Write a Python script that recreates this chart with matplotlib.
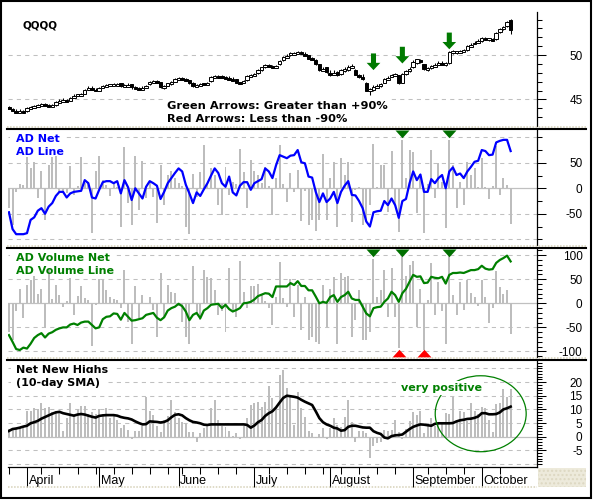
import matplotlib
matplotlib.use("Agg")
import matplotlib.pyplot as plt
import matplotlib.transforms as mtransforms
from matplotlib.patches import Ellipse, FancyArrow, Rectangle
from matplotlib.lines import Line2D
import numpy as np
import pandas as pd

# trading calendar, late March to mid October 2007
holidays = ["2007-04-06", "2007-05-28", "2007-07-04", "2007-09-03"]
days = pd.bdate_range("2007-03-26", "2007-10-11")
days = days[~days.isin(pd.to_datetime(holidays))]

opens = [44.2, 43.9, 43.8, 43.6, 43.7, 43.7, 44.0, 44.1, 44.3, 44.4,
         44.6, 44.4, 44.3, 44.4, 44.7, 44.8, 45.0, 44.8, 45.3, 45.5,
         45.5, 45.6, 46.2, 46.4, 46.2, 46.0, 46.4, 46.5, 46.6, 46.6,
         46.6, 46.8, 46.5, 46.5, 46.7, 46.4, 46.3, 46.2, 46.4, 46.7,
         47.0, 47.1, 47.0, 46.4, 46.5, 46.7, 47.0, 47.3, 47.4, 47.3,
         47.2, 46.9, 46.5, 46.6, 46.8, 46.7, 47.1, 47.5, 47.6, 47.6,
         47.6, 47.5, 47.4, 47.3, 46.9, 46.8, 47.2, 47.6, 47.8, 48.0,
         48.3, 48.6, 48.9, 48.8, 48.6, 49.0, 49.4, 49.8, 50.1, 50.1,
         50.2, 50.3, 50.2, 50.0, 49.7, 49.4, 49.0, 48.3, 48.6, 48.1,
         47.9, 48.1, 47.9, 48.3, 48.3, 48.7, 48.3, 47.8, 47.6, 46.9,
         45.9, 46.1, 46.4, 46.6, 46.9, 47.3, 47.6, 47.8, 47.7, 46.9,
         47.9, 48.3, 48.6, 49.1, 49.4, 49.0, 48.4, 48.5, 48.8, 49.0,
         49.2, 49.0, 49.1, 50.3, 50.3, 50.3, 50.5, 50.6, 51.0, 51.3,
         51.5, 51.6, 51.9, 51.8, 51.8, 51.8, 52.6, 53.0, 53.3, 53.9]
highs = [44.3, 44.0, 43.9, 43.9, 43.8, 44.1, 44.2, 44.4, 44.5, 44.6,
         44.6, 44.5, 44.5, 44.8, 45.0, 45.1, 45.0, 45.3, 45.6, 45.6,
         45.7, 46.2, 46.5, 46.5, 46.3, 46.4, 46.6, 46.7, 46.7, 46.8,
         46.8, 46.8, 46.7, 46.8, 46.7, 46.5, 46.4, 46.5, 46.6, 47.1,
         47.2, 47.2, 47.0, 46.6, 46.9, 47.1, 47.4, 47.5, 47.5, 47.4,
         47.2, 47.0, 46.7, 46.9, 46.9, 47.0, 47.6, 47.7, 47.7, 47.7,
         47.6, 47.6, 47.5, 47.3, 47.0, 47.2, 47.7, 47.9, 48.0, 48.4,
         48.7, 49.0, 49.0, 48.9, 48.9, 49.4, 49.9, 50.1, 50.3, 50.3,
         50.4, 50.4, 50.3, 50.0, 49.8, 49.5, 49.0, 48.7, 48.7, 48.3,
         48.3, 48.2, 48.4, 48.6, 48.9, 49.0, 48.4, 47.9, 47.9, 47.0,
         46.3, 46.6, 46.7, 46.8, 47.4, 47.6, 47.9, 48.0, 47.8, 48.0,
         48.3, 48.6, 49.4, 49.6, 49.5, 49.0, 48.7, 48.9, 49.1, 49.3,
         49.3, 49.2, 50.4, 50.6, 50.5, 50.6, 50.7, 51.1, 51.3, 51.6,
         51.8, 52.0, 52.0, 51.9, 51.9, 52.6, 53.0, 53.3, 53.8, 54.1]
lows = [43.9, 43.7, 43.5, 43.5, 43.5, 43.6, 43.9, 44.0, 44.2, 44.3,
        44.3, 44.2, 44.2, 44.3, 44.6, 44.7, 44.7, 44.8, 45.2, 45.4,
        45.4, 45.6, 46.1, 46.1, 45.9, 46.0, 46.3, 46.4, 46.5, 46.5,
        46.5, 46.4, 46.4, 46.4, 46.2, 46.2, 46.1, 46.1, 46.3, 46.6,
        46.9, 46.9, 46.3, 46.2, 46.5, 46.6, 47.0, 47.2, 47.2, 47.1,
        46.7, 46.4, 46.4, 46.5, 46.6, 46.6, 47.0, 47.4, 47.4, 47.4,
        47.3, 47.2, 47.1, 46.8, 46.7, 46.8, 47.1, 47.5, 47.7, 47.9,
        48.2, 48.5, 48.7, 48.6, 48.6, 48.9, 49.3, 49.7, 49.9, 50.0,
        50.1, 50.1, 49.9, 49.5, 49.4, 48.9, 48.2, 48.2, 48.0, 47.6,
        47.8, 47.6, 47.7, 48.1, 48.2, 48.5, 47.7, 47.4, 47.2, 45.9,
        45.5, 46.0, 46.3, 46.4, 46.8, 47.2, 47.5, 47.6, 46.7, 46.8,
        47.8, 48.1, 48.5, 49.0, 49.1, 48.3, 48.2, 48.4, 48.7, 48.9,
        48.9, 48.8, 49.0, 50.1, 50.1, 50.2, 50.3, 50.5, 50.9, 51.2,
        51.4, 51.5, 51.7, 51.6, 51.6, 51.7, 52.5, 52.8, 53.2, 52.4]
closes = [44.0, 43.8, 43.6, 43.7, 43.6, 44.0, 44.1, 44.3, 44.4, 44.5,
          44.4, 44.3, 44.4, 44.7, 44.9, 45.0, 44.8, 45.2, 45.5, 45.5,
          45.6, 46.1, 46.4, 46.2, 46.0, 46.3, 46.5, 46.6, 46.6, 46.6,
          46.7, 46.5, 46.5, 46.7, 46.4, 46.3, 46.2, 46.4, 46.5, 47.0,
          47.1, 47.0, 46.4, 46.5, 46.8, 47.0, 47.3, 47.4, 47.3, 47.2,
          46.8, 46.5, 46.6, 46.8, 46.7, 46.9, 47.5, 47.6, 47.5, 47.5,
          47.4, 47.3, 47.2, 46.9, 46.8, 47.1, 47.6, 47.8, 47.9, 48.3,
          48.6, 48.9, 48.8, 48.7, 48.8, 49.3, 49.8, 50.0, 50.1, 50.2,
          50.3, 50.2, 50.0, 49.6, 49.5, 49.0, 48.3, 48.5, 48.1, 47.9,
          48.1, 47.8, 48.3, 48.4, 48.7, 48.8, 47.8, 47.6, 47.4, 46.0,
          46.2, 46.4, 46.6, 46.7, 47.3, 47.5, 47.8, 47.9, 46.8, 47.9,
          48.2, 48.4, 49.2, 49.5, 49.3, 48.4, 48.5, 48.8, 49.0, 49.2,
          49.0, 49.1, 50.3, 50.4, 50.3, 50.5, 50.6, 51.0, 51.2, 51.5,
          51.7, 51.9, 51.8, 51.8, 51.7, 52.5, 52.9, 53.2, 53.7, 52.8]

ad_net = [-39, -72, -7, 8, 7, 62, 39, 51, -20, 34,
          -62, 46, 62, 63, -10, -7, -10, 44, -13, 5,
          61, 10, 13, -88, 33, 64, 16, 7, -16, 10,
          3, -75, 80, -29, -72, 64, -42, 54, -20, 13,
          -17, -69, 46, -33, 26, 33, 20, 10, 5, -75,
          -89, 29, -17, 31, 85, 8, 39, 26, -33, -52,
          42, -13, 13, 8, 78, 31, -39, 56, 33, 26,
          10, 41, 5, -52, 20, 85, 8, -26, 30, -7,
          36, -65, -6, -72, -62, -84, -62, 67, -62, 20,
          51, -75, 59, 26, 51, -67, -3, 3, -72, -65,
          -33, 86, 3, 46, 46, -46, 73, -33, -86, 95,
          20, 75, 72, -49, 29, -88, 8, 75, -20, 49,
          13, -78, 95, 46, -39, 13, -33, 52, 26, 39,
          3, 59, 3, -21, 4, 82, -13, 20, 7, -70]
ad_line = [-47, -80, -90, -90, -90, -88, -62, -57, -44, -39,
           -50, -36, -29, -15, -7, -7, -18, -10, -7, -6,
           -5, 16, 10, -18, -20, -3, 12, 14, 14, 10,
           14, -10, 16, 2, -23, 0, -10, -20, 3, 14,
           10, 5, -21, -7, 10, 20, 30, 39, 33, 7,
           -10, -29, -8, -15, -2, 10, 25, 39, 30, 10,
           3, 23, -8, -14, 5, 12, 12, -3, 10, 14,
           18, 39, 33, 20, 45, 65, 62, 59, 64, 65,
           75, 51, 49, 23, 21, -7, -27, -10, -27, -20,
           -7, -29, -7, 5, 14, -13, -14, -25, -39, -65,
           -75, -47, -45, -44, -25, -33, -20, -33, -58, -25,
           -21, 10, 33, 16, 27, -7, -7, 18, 10, 20,
           26, 0, 33, 41, 26, 29, 20, 33, 42, 52,
           54, 75, 73, 65, 66, 90, 93, 95, 95, 73]

adv_net = [-59, -77, -17, 29, -31, 38, 48, 57, 20, 29,
           -52, 77, 8, 38, 17, -8, 5, 52, -24, 15,
           36, 10, 7, -88, -3, 50, 50, 28, 14, 8,
           7, -10, 70, -38, -84, 35, -31, 17, -2, 13,
           -14, -70, 62, -28, 38, 24, 22, -6, -38, -70,
           -84, 78, -21, -35, 70, 55, 52, 28, -24, -17,
           -59, 73, -14, -28, 87, 24, -10, 35, 35, 41,
           20, 5, -10, -45, 14, 85, 10, -7, 50, -28,
           38, -55, 14, -76, -70, -80, -84, 38, -49, 29,
           55, -84, 63, 55, 56, -70, -35, 28, -76, -77,
           -59, 92, 14, 28, 70, -29, 73, -29, -92, 99,
           57, 80, 87, -50, 29, -98, 6, 83, -24, 45,
           -15, -84, 99, 17, -24, 45, -14, 48, 22, 14,
           -6, 48, 13, -41, -10, 68, 34, 20, 27, -64]
adv_line = [-66, -80, -95, -97, -92, -94, -84, -72, -66, -62,
            -71, -63, -60, -55, -52, -50, -50, -44, -42, -45,
            -40, -38, -38, -45, -52, -50, -33, -28, -27, -21,
            -22, -34, -20, -28, -36, -35, -33, -31, -24, -22,
            -20, -30, -35, -29, -15, -10, -7, -1, -6, -17,
            -35, -24, -20, -31, -15, -10, -3, -2, -1, -10,
            -3, -12, -17, -14, -10, 0, 1, 3, 8, 15,
            18, 21, 20, 13, 35, 35, 35, 35, 42, 38,
            46, 36, 36, 27, 27, 14, 0, 3, 1, 13,
            17, 3, 13, 17, 24, 10, 7, 7, -7, -21,
            -27, -10, -8, -7, 3, 10, 24, 17, 3, 21,
            30, 45, 59, 55, 56, 42, 43, 55, 53, 52,
            55, 41, 59, 63, 63, 64, 63, 66, 69, 69,
            71, 78, 72, 70, 71, 84, 90, 94, 99, 87]

nnh = [2.8, 2.8, 2.8, 3.3, 4.0, 9.4, 9.4, 10.6, 10.1, 12.2,
       10.6, 11.0, 8.9, 9.4, 8.5, 2.1, 6.7, 12.2, 8.2, 10.1,
       11.3, 11.3, 8.2, 8.9, 8.2, 10.1, 8.2, 10.4, 7.0, 8.2,
       6.1, 3.3, 4.3, 2.5, -0.9, 2.1, 2.1, 4.0, 14.6, 9.4,
       7.9, 4.0, 1.6, 6.1, 7.7, 13.4, 9.1, 7.0, 5.5, 4.5,
       1.8, 1.6, -2.1, 1.2, 3.3, 4.0, 10.4, 13.4, 6.1, 4.0,
       3.7, 2.1, 0.3, 1.5, -0.9, 4.0, 7.0, 11.6, 12.2, 12.8,
       11.0, 12.8, 18.7, 14.0, 10.4, 22.6, 24.4, 17.7, 14.8, 4.3,
       16.5, 10.6, 7.3, 2.1, 1.2, -0.6, 0.9, 3.3, -0.9, 3.3,
       6.7, 4.3, 3.7, 7.3, 13.4, 5.5, -2.1, 2.1, 2.1, 1.2,
       -7.9, -3.3, -2.4, -2.1, 2.4, 2.1, 2.4, 6.1, 1.6, -0.9,
       2.8, 5.7, 9.1, 7.9, 9.4, 1.2, 4.0, 7.0, 4.0, 5.5,
       4.9, 8.5, 8.2, 14.6, 5.5, 9.4, 8.9, 5.7, 12.2, 9.4,
       8.2, 11.0, 10.4, 6.1, 1.8, 11.8, 12.2, 17.4, 14.6, 17.4]
nnh_sma = [2.1, 2.8, 3.0, 3.3, 3.7, 4.0, 4.9, 5.3, 5.8, 6.6,
           7.2, 7.8, 8.4, 8.9, 9.1, 8.6, 8.3, 8.0, 7.7, 8.1,
           8.3, 8.1, 7.7, 7.3, 7.0, 7.6, 7.8, 7.9, 7.9, 7.9,
           7.7, 7.2, 6.9, 6.7, 6.3, 5.6, 5.0, 4.5, 4.6, 5.6,
           5.5, 5.4, 5.2, 5.4, 6.0, 7.1, 8.0, 8.2, 7.8, 6.8,
           6.0, 5.4, 5.2, 4.9, 4.4, 4.3, 4.5, 4.5, 4.5, 4.5,
           4.5, 4.5, 4.5, 4.5, 4.5, 4.5, 4.3, 3.3, 4.1, 5.3,
           6.1, 7.6, 8.6, 9.3, 10.7, 12.5, 14.2, 15.0, 14.8, 14.6,
           14.3, 13.5, 12.8, 12.2, 11.6, 9.3, 6.8, 5.3, 4.5, 4.0,
           3.3, 3.0, 2.2, 2.4, 3.6, 4.0, 4.0, 3.7, 3.4, 3.3,
           3.3, 2.0, 1.4, 1.0, -0.3, -0.6, 0.2, 0.5, 0.6, 0.8,
           1.8, 2.8, 3.6, 4.1, 4.5, 4.4, 4.2, 4.0, 4.7, 4.9,
           4.9, 4.9, 4.9, 5.0, 5.6, 6.0, 6.2, 6.5, 6.6, 6.9,
           7.4, 8.6, 8.6, 8.2, 8.2, 8.3, 8.9, 10.0, 10.4, 11.0]

# breadth thrust days marked by arrows
price_arrow_dates = ["2007-08-17", "2007-08-29", "2007-09-18"]
price_arrow_tips = [48.3, 49.05, 50.65]
net_green_dates = ["2007-08-29", "2007-09-18"]
vol_green_dates = ["2007-08-17", "2007-08-29", "2007-09-18"]
vol_red_dates = ["2007-08-28", "2007-09-07"]

W, H = 594, 500
fig = plt.figure(figsize=(W / 100, H / 100), dpi=100)


def rect(top, bottom, left=8, right=537):
    return [left / W, 1 - bottom / H, (right - left) / W, (bottom - top) / H]


def pos(d):
    return [days.get_loc(pd.Timestamp(s)) for s in d]


x = np.arange(len(days))
XLIM = (-0.26, 146.3)
GRID = "#C0C0C0"
BAR = "#BDBDBD"
GREEN = "#008000"


def panel(r, ylim, major, minor, grid):
    ax = fig.add_axes(r)
    ax.set_xlim(*XLIM)
    ax.set_ylim(*ylim)
    ax.patch.set_alpha(0)
    for s in ("left", "top", "bottom"):
        ax.spines[s].set_visible(False)
    ax.spines["right"].set_linewidth(0.9)
    ax.yaxis.tick_right()
    ax.set_yticks(major, labels=[str(v) for v in major])
    ax.set_yticks(minor, minor=True)
    ax.tick_params(axis="y", which="major", length=6.5, width=0.75, pad=26.3,
                   labelsize=8.5, labelfontfamily="Liberation Sans")
    ax.tick_params(axis="y", which="minor", length=3.4, width=0.75)
    ax.tick_params(axis="x", which="both", bottom=False, labelbottom=False)
    for lbl in ax.get_yticklabels():
        lbl.set_horizontalalignment("right")
    for g in grid:
        ax.axhline(g, color=GRID, lw=0.75, ls=(0, (4, 4)), zorder=0.5)
    return ax


# price panel
ax1 = panel(rect(12, 126), (42.0, 54.85), [45, 50], np.arange(43, 55), [45, 50])
up = np.array(closes) >= np.array(opens)
lo = np.minimum(opens, closes)
hi = np.abs(np.array(closes) - np.array(opens))
ax1.vlines(x, lows, highs, color="black", lw=0.75, zorder=2)
ax1.bar(x, np.maximum(hi, 0.22), bottom=lo - np.where(hi < 0.22, 0.11, 0), width=0.95,
        color=np.where(up, "white", "black"), edgecolor="black", linewidth=0.7, zorder=3)
for i, tip in zip(pos(price_arrow_dates), price_arrow_tips):
    ax1.add_patch(FancyArrow(i, tip + 1.88, 0, -1.88, width=1.4, head_width=3.8,
                             head_length=0.82, length_includes_head=True,
                             color="#007A00", lw=0, zorder=4))

# AD net panel
ax2 = panel(rect(130, 245), (-111.2, 114.3), [-50, 0, 50], np.arange(-100, 101, 25),
            [-100, -50, 50, 100])
ax2.axhline(0, color=GRID, lw=0.9, zorder=0.5)
ax2.bar(x, ad_net, width=0.55, color=BAR, zorder=2)
ax2.plot(x, ad_line, color="#0000FF", lw=1.6, zorder=3)

down_tri = [(-1, 0), (1, 0), (0, -1.1)]
up_tri = [(-1, 0), (1, 0), (0, 1.1)]
ax2.scatter(pos(net_green_dates), [1] * len(net_green_dates), marker=down_tri, s=11.1 ** 2,
            color="#007000", transform=ax2.get_xaxis_transform(), clip_on=False, zorder=5, lw=0)

# AD volume panel
ax3 = panel(rect(249, 357), (-111.5, 112.8), [-100, -50, 0, 50, 100],
            np.arange(-110, 111, 10), [-100, -50, 50, 100])
ax3.axhline(0, color=GRID, lw=0.9, zorder=0.5)
ax3.bar(x, adv_net, width=0.55, color=BAR, zorder=2)
ax3.plot(x, adv_line, color=GREEN, lw=1.6, zorder=3)
ax3.scatter(pos(vol_green_dates), [1] * len(vol_green_dates), marker=down_tri, s=11.1 ** 2,
            color="#007000", transform=ax3.get_xaxis_transform(), clip_on=False, zorder=5, lw=0)
ax3.scatter(pos(vol_red_dates), [0] * len(vol_red_dates), marker=up_tri, s=11.1 ** 2,
            color="#FF0000", transform=ax3.get_xaxis_transform(), clip_on=False, zorder=5, lw=0)

# net new highs panel
ax4 = panel(rect(361, 466.7), (-10.98, 27.7), [-5, 0, 5, 10, 15, 20],
            np.arange(-10, 28, 1), [-10, -5, 5, 10, 15, 20, 25])
ax4.axhline(0, color=GRID, lw=0.9, zorder=0.5)
ax4.bar(x, nnh, width=0.55, color=BAR, zorder=2)
ax4.plot(x, nnh_sma, color="black", lw=1.9, zorder=3)
ax4.add_patch(Ellipse((130.7, 8.4), 25.2, 27.8, fill=False, ec=GREEN, lw=0.9, zorder=4))

month_idx = [i for i in range(1, len(days)) if days[i].month != days[i - 1].month]
week_idx = [i for i in range(len(days)) if i == 0 or days[i].weekday() < days[i - 1].weekday()]
ax4.spines["bottom"].set_visible(True)
ax4.spines["bottom"].set_linewidth(0.9)
ax4.set_xticks(month_idx, labels=[days[i].strftime("%B") for i in month_idx])
ax4.set_xticks(week_idx, minor=True)
ax4.tick_params(axis="x", which="major", bottom=True, labelbottom=True, length=14.4,
                width=0.75, pad=-2, labelsize=9, labelfontfamily="Liberation Sans")
ax4.tick_params(axis="x", which="minor", bottom=True, length=5, width=0.75)
shift = mtransforms.ScaledTranslation(1.5 / 100, 0, fig.dpi_scale_trans)
for lbl in ax4.get_xticklabels():
    lbl.set_horizontalalignment("left")
    lbl.set_verticalalignment("baseline")
    lbl.set_transform(lbl.get_transform() + shift)


# labels
def label(px, py, s, color="black", size=8, box=False, pad=0.5):
    kw = dict(fontsize=size, fontweight="bold", color=color, va="baseline", ha="left",
              family="DejaVu Sans", zorder=6)
    if box:
        kw["bbox"] = dict(boxstyle=f"square,pad={pad}", fc="white", ec="none")
    fig.text(px / W, 1 - py / H, s, **kw)


label(22.7, 28.5, "QQQQ", size=7.5)
label(166.7, 109, "Green Arrows: Greater than +90%", size=8.2, box=True, pad=0.3)
label(166.7, 122, "Red Arrows: Less than -90%", size=8.2)
label(16, 142.3, "AD Net", color="#0000FF", box=True)
label(16, 155, "AD Line", color="#0000FF")
label(16, 261, "AD Volume Net", color=GREEN, box=True)
label(16, 274, "AD Volume Line", color=GREEN)
label(16, 373, "Net New Highs", box=True, pad=0.45)
label(16, 386, "(10-day SMA)", box=True, pad=0.45)
label(401, 391, "very positive", color=GREEN, box=True, pad=0.2)


# panel separators and frame
def hline(py, color, lw, ls="-", x0=7, x1=586):
    fig.add_artist(Line2D([x0 / W, x1 / W], [1 - py / H, 1 - py / H], color=color,
                          lw=lw, ls=ls, zorder=10))


for beige_y, black_y in [(126.6, 129), (245.9, 248), (357.9, 360)]:
    hline(beige_y, "#D6D1B8", 1.1, ls=(0, (1, 1)))
    hline(black_y, "black", 1.5)
hline(487, "#D6D1B8", 1.1, ls=(0, (1, 1)), x0=8, x1=537)

fig.add_artist(Rectangle((537.5 / W, 1 - 487 / H), 48.5 / W, 19 / H, fc="#EDEADB",
                         ec="#DDD8C2", hatch="....", lw=0, zorder=1))
fig.add_artist(Rectangle((1 / W, 1 - 498 / H), 590 / W, 497 / H, fill=False,
                         ec="black", lw=1.5, zorder=11))

fig.savefig("out.png", dpi=100)
